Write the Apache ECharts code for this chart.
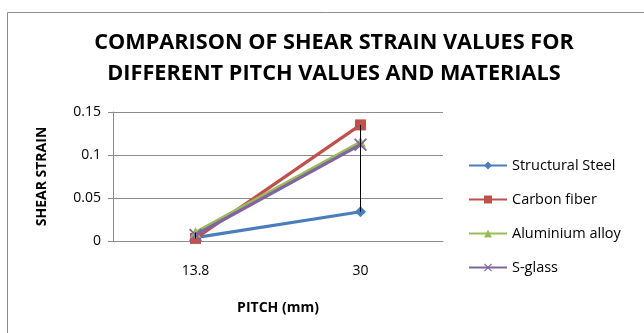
<!DOCTYPE html>
<html>
<head>
<meta charset="utf-8">
<script src="https://cdn.jsdelivr.net/npm/echarts@6/dist/echarts.min.js"></script>
<style>
  html, body { margin: 0; padding: 0; background: #fff; }
  #chart { width: 644px; height: 333px; }
</style>
</head>
<body>
<div id="chart"></div>
<script>
// Pitch values (mm) on the category axis
var pitches = ['13.8', '30'];

// Shear strain per material
var structuralSteel = [0.004, 0.034];
var carbonFiber     = [0.003, 0.135];
var aluminiumAlloy  = [0.010, 0.115];
var sGlass          = [0.007, 0.112];

var seriesNames = ['Structural Steel', 'Carbon fiber', 'Aluminium alloy', 'S-glass'];
var seriesValues = [structuralSteel, carbonFiber, aluminiumAlloy, sGlass];
var seriesColors = ['#4A7EBB', '#C0504D', '#9BBB59', '#8064A2'];

var crossSymbol = 'path://M1,0L5,4L9,0L10,1L6,5L10,9L9,10L5,6L1,10L0,9L4,5L0,1Z';
var symbols = ['diamond', 'rect', 'triangle', crossSymbol];
var symbolSizes = [11, 11, 11, 13];

// High-low range per category across all materials
var highLow = pitches.map(function (p, i) {
  var vals = seriesValues.map(function (s) { return s[i]; });
  return [i, Math.max.apply(null, vals), Math.min.apply(null, vals)];
});

var font = '"Open Sans", "Liberation Sans", sans-serif';

var series = seriesNames.map(function (name, k) {
  return {
    name: name,
    type: 'line',
    data: seriesValues[k],
    symbol: symbols[k],
    symbolSize: symbolSizes[k],
    showAllSymbol: true,
    lineStyle: { width: 3.2, color: seriesColors[k] },
    itemStyle: { color: seriesColors[k] },
    z: 2 + k
  };
});

series.push({
  name: 'high-low',
  type: 'custom',
  data: highLow,
  z: 10,
  silent: true,
  encode: { x: 0, y: [1, 2] },
  renderItem: function (params, api) {
    var top = api.coord([api.value(0), api.value(1)]);
    var bottom = api.coord([api.value(0), api.value(2)]);
    return {
      type: 'line',
      shape: { x1: top[0], y1: top[1], x2: bottom[0], y2: bottom[1] },
      style: { stroke: '#000', lineWidth: 1 }
    };
  }
});

var chart = echarts.init(document.getElementById('chart'), null, { renderer: 'canvas' });
chart.setOption({
  animation: false,
  backgroundColor: '#fff',
  graphic: [{
    type: 'rect',
    shape: { x: 7.5, y: 12.5, width: 700, height: 400 },
    style: { fill: 'none', stroke: '#8c8c8c', lineWidth: 1 },
    z: -1
  }],
  title: {
    text: 'COMPARISON OF SHEAR STRAIN VALUES FOR\nDIFFERENT PITCH VALUES AND MATERIALS',
    left: 329,
    top: 22,
    textAlign: 'center',
    textStyle: {
      fontFamily: font,
      fontSize: 21.7,
      fontWeight: 'bold',
      color: '#000',
      lineHeight: 31
    }
  },
  legend: {
    orient: 'vertical',
    left: 463,
    top: 153,
    itemWidth: 38,
    itemHeight: 10,
    itemGap: 19,
    data: seriesNames,
    textStyle: { fontFamily: font, fontSize: 14.5, color: '#000' }
  },
  grid: { left: 113, right: 201, top: 112, bottom: 92 },
  xAxis: {
    type: 'category',
    data: pitches,
    boundaryGap: true,
    name: 'PITCH (mm)',
    nameLocation: 'middle',
    nameGap: 60,
    nameTextStyle: { fontFamily: font, fontSize: 14, fontWeight: 'bold', color: '#000' },
    axisLine: { lineStyle: { color: '#8c8c8c', width: 1 } },
    axisTick: { show: false },
    axisLabel: { fontFamily: font, fontSize: 14, color: '#000', margin: 23 }
  },
  yAxis: {
    type: 'value',
    min: 0,
    max: 0.15,
    interval: 0.05,
    name: 'SHEAR STRAIN',
    nameLocation: 'middle',
    nameGap: 64,
    nameTextStyle: { fontFamily: font, fontSize: 14, fontWeight: 'bold', color: '#000' },
    axisLine: { show: true, lineStyle: { color: '#8c8c8c', width: 1 } },
    axisTick: { show: true, length: 5, lineStyle: { color: '#8c8c8c' } },
    splitLine: { lineStyle: { color: '#8c8c8c', width: 1 } },
    axisLabel: { fontFamily: font, fontSize: 14, color: '#000', margin: 12 }
  },
  series: series
});
</script>
</body>
</html>
